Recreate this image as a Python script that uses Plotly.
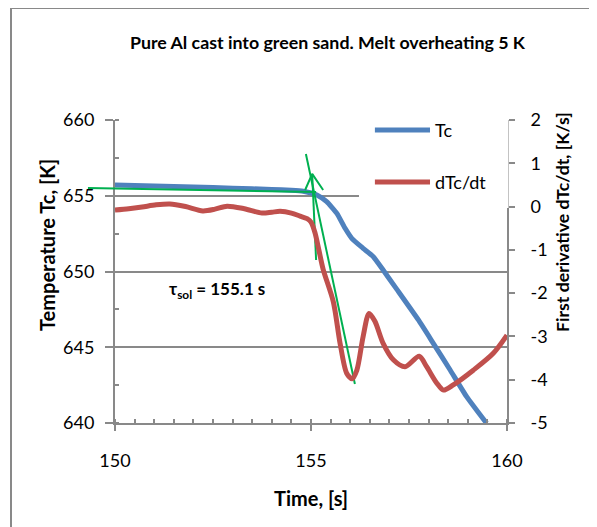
import plotly.graph_objects as go

# ---- data ----
time_tc = [150.0, 151.0, 152.0, 153.0, 154.0, 154.5, 154.8, 155.0, 155.15, 155.4, 155.66,
           155.87, 156.04, 156.33, 156.59, 156.84, 157.14, 157.74, 158.12, 158.55, 158.97, 159.48]
tc = [655.71, 655.65, 655.58, 655.50, 655.42, 655.36, 655.30, 655.18, 655.05, 654.61, 653.84,
      652.85, 652.19, 651.53, 650.98, 650.10, 649.00, 646.80, 645.26, 643.50, 641.74, 639.98]

time_dtc = [150.0, 150.35, 150.69, 151.05, 151.4, 151.8, 152.24, 152.55, 152.86, 153.3, 153.75,
            154.0, 154.21, 154.5, 154.72, 154.9, 155.0, 155.1, 155.2, 155.31, 155.57, 155.74,
            155.91, 156.05, 156.17, 156.33, 156.48, 156.63, 156.84, 157.1, 157.4, 157.76,
            157.95, 158.21, 158.38, 158.63, 159.14, 159.65, 160.0]
dtc = [-0.08, -0.05, -0.01, 0.04, 0.06, 0.0, -0.10, -0.06, 0.01, -0.05, -0.15,
       -0.13, -0.11, -0.15, -0.22, -0.28, -0.36, -0.60, -1.0, -1.45, -2.2, -3.15,
       -3.85, -3.98, -3.78, -3.0, -2.47, -2.65, -3.16, -3.54, -3.70, -3.46,
       -3.70, -4.08, -4.24, -4.12, -3.78, -3.39, -2.97]

# tangent construction (green) in time / temperature units
base_time = [149.31, 155.13]
base_temp = [655.51, 655.25]
tangent_time = [154.87, 156.12]
tangent_temp = [657.76, 642.57]
arrow_time = [155.13, 155.03, None, 154.85, 155.03, 155.31]
arrow_temp = [650.76, 656.44, None, 655.38, 656.44, 655.38]

x_ticks = [150, 155, 160]
y_ticks = [640, 645, 650, 655, 660]
y2_ticks = [-5, -4, -3, -2, -1, 0, 1, 2]
y2_labels = [str(v) for v in y2_ticks]
X_RANGE = [150, 160]
Y_RANGE = [640, 660]

BLUE = "#4F81BD"
RED = "#C0504D"
GREEN = "#00B050"
GRAY = "#898989"
FONT = "Lato"

fig = go.Figure()
fig.add_trace(go.Scatter(x=time_tc, y=tc, mode="lines", name="Tc",
                         line=dict(color=BLUE, width=5, shape="spline", smoothing=0.45),
                         showlegend=False))
fig.add_trace(go.Scatter(x=time_dtc, y=dtc, mode="lines", name="dTc/dt", yaxis="y2",
                         line=dict(color=RED, width=5, shape="spline", smoothing=0.8),
                         showlegend=False))
for xs, ys in [(base_time, base_temp), (tangent_time, tangent_temp), (arrow_time, arrow_temp)]:
    fig.add_trace(go.Scatter(x=xs, y=ys, mode="lines", line=dict(color=GREEN, width=2),
                             showlegend=False, hoverinfo="skip"))


def px_x(t):
    return (t - X_RANGE[0]) / (X_RANGE[1] - X_RANGE[0])


def px_y(v):
    return (v - Y_RANGE[0]) / (Y_RANGE[1] - Y_RANGE[0])


shapes = []
# part of the base tangent line extending left of the plot area
shapes.append(dict(type="line", xref="paper", yref="paper",
                   x0=px_x(base_time[0]), x1=0,
                   y0=px_y(base_temp[0]),
                   y1=px_y(base_temp[0] + (base_temp[1] - base_temp[0]) *
                            (X_RANGE[0] - base_time[0]) / (base_time[1] - base_time[0])),
                   line=dict(color=GREEN, width=2), layer="above"))
# outer chart border
shapes.append(dict(type="rect", xref="paper", yref="paper", x0=-0.2653, x1=1.3, y0=-0.4, y1=1.3696,
                   line=dict(color=GRAY, width=2), fillcolor="rgba(0,0,0,0)", layer="above"))
# legend box
shapes.append(dict(type="rect", xref="paper", yref="paper", x0=0.6224, x1=1.0038, y0=0.7096, y1=1.01,
                   line=dict(width=0), fillcolor="white", layer="above"))
shapes.append(dict(type="line", xref="paper", yref="paper", x0=0.663, x1=0.8036, y0=0.967, y1=0.967,
                   line=dict(color=BLUE, width=5), layer="above"))
shapes.append(dict(type="line", xref="paper", yref="paper", x0=0.663, x1=0.8036, y0=0.795, y1=0.795,
                   line=dict(color=RED, width=5), layer="above"))

annotations = [
    dict(text="Tc", xref="paper", yref="paper", x=0.812, y=0.967, xanchor="left", yanchor="middle",
         showarrow=False, font=dict(family=FONT, size=18, color="black")),
    dict(text="dTc/dt", xref="paper", yref="paper", x=0.812, y=0.795, xanchor="left", yanchor="middle",
         showarrow=False, font=dict(family=FONT, size=18, color="black")),
    dict(text="<b>Temperature Tc, [K]</b>", xref="paper", yref="paper", x=-0.1735, y=0.5875,
         textangle=-90, showarrow=False, xanchor="center", yanchor="middle",
         font=dict(family=FONT, size=20, color="black")),
    dict(text="<b>First derivative dTc/dt, [K/s]</b>", xref="paper", yref="paper", x=1.1429, y=0.6634,
         textangle=-90, showarrow=False, xanchor="center", yanchor="middle",
         font=dict(family=FONT, size=17.7, color="black")),
    dict(text="<b>Time, [s]</b>", xref="paper", yref="paper", x=0.5, y=-0.2475,
         showarrow=False, xanchor="center", yanchor="middle",
         font=dict(family=FONT, size=20, color="black")),
    dict(text="<b>τ<sub>sol</sub> = 155.1 s</b>", xref="paper", yref="paper", x=0.26, y=0.439,
         showarrow=False, xanchor="center", yanchor="middle",
         font=dict(family=FONT, size=17, color="black")),
]

# the page body has a default 8px margin, so the figure is 8px smaller than the window
fig.update_layout(
    width=589, height=519,
    margin=dict(l=107, r=90, t=112, b=104),
    paper_bgcolor="white", plot_bgcolor="white",
    font=dict(family=FONT, size=18, color="black"),
    title=dict(text="<b>Pure Al cast into green sand. Melt overheating 5 K</b>",
               xref="container", yref="container", x=0.5424, y=0.9326,
               xanchor="center", yanchor="middle",
               font=dict(family=FONT, size=17.8, color="black")),
    xaxis=dict(range=X_RANGE, tickvals=x_ticks, showgrid=False, zeroline=False,
               showline=True, linecolor=GRAY, linewidth=2,
               ticks="outside", ticklen=6, tickwidth=2, tickcolor=GRAY,
               ticklabelstandoff=14,
               minor=dict(dtick=0.5, ticks="inside", ticklen=4, tickwidth=1.5, tickcolor=GRAY, showgrid=False),
               tickfont=dict(family=FONT, size=18)),
    yaxis=dict(range=Y_RANGE, tickvals=y_ticks, showgrid=True, gridcolor=GRAY, gridwidth=2,
               zeroline=False, showline=True, linecolor=GRAY, linewidth=2,
               ticks="outside", ticklen=8, tickwidth=2, tickcolor=GRAY,
               ticklabelstandoff=7,
               minor=dict(dtick=2.5, ticks="inside", ticklen=4, tickwidth=1.5, tickcolor=GRAY, showgrid=False),
               tickfont=dict(family=FONT, size=18)),
    yaxis2=dict(range=[-5, 2], tickvals=y2_ticks, ticktext=y2_labels, overlaying="y", side="right",
                showgrid=False, zeroline=False, showline=True, linecolor=GRAY, linewidth=2,
                ticks="outside", ticklen=6, tickwidth=2, tickcolor=GRAY,
                ticklabelstandoff=12,
                tickfont=dict(family=FONT, size=18)),
    shapes=shapes,
    annotations=annotations,
)

fig.write_html("out.html")
